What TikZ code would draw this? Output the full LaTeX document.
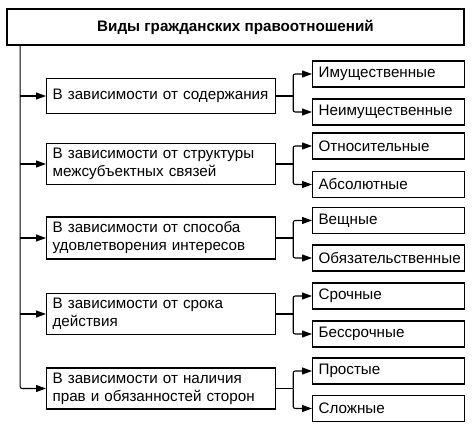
\documentclass[tikz,border=0pt]{standalone}
\usepackage{fontspec}
\setmainfont{Liberation Sans}
\usetikzlibrary{arrows.meta}
\begin{document}
\begin{tikzpicture}[x=1pt,y=-1pt,
  box/.style={draw, line width=1.2pt, rectangle, inner ysep=0pt, inner xsep=6pt, align=left, anchor=west, font=\fontsize{15.2}{18}\selectfont},
  midbox/.style={box, text width=217pt, minimum height=41pt},
  leafbox/.style={box, text width=140pt, minimum height=26pt},
  arr/.style={line width=1.1pt, rounded corners=2pt, -{Triangle[length=10pt,width=7pt]}},
  ln/.style={line width=1.1pt}]
\useasboundingbox (0,0) rectangle (474,430);
\node[draw, line width=1.2pt, minimum width=457pt, minimum height=36pt, inner sep=0pt, font=\bfseries\fontsize{15.2}{18}\selectfont] (title) at (235.5,27) {Виды гражданских правоотношений};
\coordinate (ttop) at ([xshift=13.7pt]title.south west);

\node[midbox, minimum height=35pt] (m1) at (46,96) {В зависимости от содержания};
\node[midbox] (m2) at (46,164) {В зависимости от структуры\\межсубъектных связей};
\node[midbox, minimum height=42pt] (m3) at (46,238) {В зависимости от способа\\удовлетворения интересов};
\node[midbox] (m4) at (46,314) {В зависимости от срока\\действия};
\node[midbox] (m5) at (46,388.5) {В зависимости от наличия\\прав и обязанностей сторон};

\node[leafbox] (r1a) at (312,74) {Имущественные};
\node[leafbox] (r1b) at (312,112) {Неимущественные};
\node[leafbox] (r2a) at (312,146) {Относительные};
\node[leafbox] (r2b) at (312,184.5) {Абсолютные};
\node[leafbox] (r3a) at (312,220.5) {Вещные};
\node[leafbox] (r3b) at (312,258) {Обязательственные};
\node[leafbox] (r4a) at (312,296) {Срочные};
\node[leafbox] (r4b) at (312,334) {Бессрочные};
\node[leafbox] (r5a) at (312,371) {Простые};
\node[leafbox] (r5b) at (312,408.5) {Сложные};

\draw[arr] (ttop) |- (m5.west);
\foreach \m in {m1,m2,m3,m4} \draw[arr] (ttop |- \m.west) -- (\m.west);

\foreach \m/\a/\b in {m1/r1a/r1b, m2/r2a/r2b, m3/r3a/r3b, m4/r4a/r4b, m5/r5a/r5b} {
  \draw[ln] (\m.east) -- ++(17,0) coordinate (f);
  \draw[arr] (f) |- (\a.west);
  \draw[arr] (f) |- (\b.west);
}
\end{tikzpicture}
\end{document}
